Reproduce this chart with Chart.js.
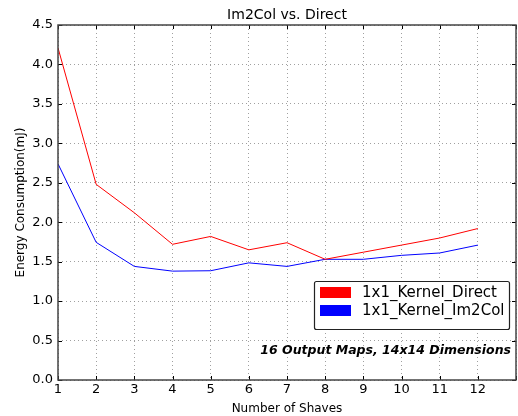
<!DOCTYPE html>
<html>
<head>
<meta charset="utf-8">
<script src="https://cdn.jsdelivr.net/npm/chart.js@4/dist/chart.umd.min.js"></script>
<style>
  html, body { margin: 0; padding: 0; background: #fff; }
  #wrap { width: 518px; height: 416px; }
</style>
</head>
<body>
<div id="wrap"><canvas id="c" width="518" height="416"></canvas></div>
<script>
// Number of shaves on the x axis
const shaves = [1, 2, 3, 4, 5, 6, 7, 8, 9, 10, 11, 12];
// Energy consumption (mJ) per configuration
const directEnergy = [4.21, 2.48, 2.12, 1.72, 1.82, 1.65, 1.74, 1.53, 1.62, 1.71, 1.80, 1.92];
const im2colEnergy = [2.74, 1.745, 1.44, 1.38, 1.385, 1.485, 1.44, 1.53, 1.53, 1.58, 1.61, 1.71];
const seriesNames = ['1x1_Kernel_Direct', '1x1_Kernel_Im2Col'];
const seriesColors = ['#ff0000', '#0000ff'];
const chartTitle = 'Im2Col vs. Direct';
const xTitle = 'Number of Shaves';
const yTitle = 'Energy Consumption(mJ)';
const noteText = '16 Output Maps, 14x14 Dimensions';

const FONT = '"DejaVu Sans", sans-serif';

const toPoints = vals => shaves.map((s, i) => ({ x: s, y: vals[i] }));

// Frame, inward ticks, title, legend box and note
const decorations = {
  id: 'decorations',
  afterDraw(chart) {
    const { ctx, chartArea: a, scales } = chart;
    ctx.save();
    // inward tick marks on all four sides
    ctx.strokeStyle = '#000';
    ctx.lineWidth = 1;
    const tl = 4;
    scales.x.ticks.forEach(t => {
      const px = Math.round(scales.x.getPixelForValue(t.value)) + 0.5;
      ctx.beginPath();
      ctx.moveTo(px, a.bottom); ctx.lineTo(px, a.bottom - tl);
      ctx.moveTo(px, a.top); ctx.lineTo(px, a.top + tl);
      ctx.stroke();
    });
    scales.y.ticks.forEach(t => {
      const py = Math.round(scales.y.getPixelForValue(t.value)) + 0.5;
      ctx.beginPath();
      ctx.moveTo(a.left, py); ctx.lineTo(a.left + tl, py);
      ctx.moveTo(a.right, py); ctx.lineTo(a.right - tl, py);
      ctx.stroke();
    });
    // frame
    ctx.strokeStyle = '#444';
    ctx.lineWidth = 1.5;
    ctx.strokeRect(a.left, a.top, a.right - a.left, a.bottom - a.top);

    // title
    ctx.fillStyle = '#000';
    ctx.font = '14px ' + FONT;
    ctx.textAlign = 'center';
    ctx.textBaseline = 'alphabetic';
    ctx.fillText(chartTitle, (a.left + a.right) / 2, a.top - 6);

    // legend
    const lx = 314, ly = 281, lw = 195, lh = 48;
    ctx.fillStyle = '#fff';
    ctx.fillRect(lx, ly, lw, lh);
    ctx.strokeStyle = '#222';
    ctx.lineWidth = 1.2;
    ctx.beginPath();
    ctx.roundRect ? ctx.roundRect(lx + 0.5, ly + 0.5, lw, lh, 2) : ctx.rect(lx + 0.5, ly + 0.5, lw, lh);
    ctx.stroke();
    ctx.font = '15px ' + FONT;
    ctx.textAlign = 'left';
    ctx.textBaseline = 'middle';
    chart.data.datasets.forEach((ds, i) => {
      const ry = ly + 6 + i * 18;
      ctx.fillStyle = ds.borderColor;
      ctx.fillRect(lx + 6, ry, 31, 11);
      ctx.fillStyle = '#000';
      ctx.fillText(ds.label, lx + 48, ry + 6);
    });

    // note
    ctx.font = 'italic bold 12.5px ' + FONT;
    ctx.textAlign = 'right';
    ctx.textBaseline = 'middle';
    ctx.fillStyle = '#000';
    ctx.fillText(noteText, a.right - 5, 351);
    ctx.restore();
  }
};

new Chart(document.getElementById('c'), {
  type: 'line',
  data: {
    datasets: [
      { label: seriesNames[0], data: toPoints(directEnergy), borderColor: seriesColors[0], borderWidth: 1, pointRadius: 0, tension: 0, fill: false },
      { label: seriesNames[1], data: toPoints(im2colEnergy), borderColor: seriesColors[1], borderWidth: 1, pointRadius: 0, tension: 0, fill: false }
    ]
  },
  options: {
    responsive: false,
    animation: false,
    devicePixelRatio: 1,
    layout: { padding: { top: 25, right: 1, left: 0, bottom: 0 } },
    plugins: { legend: { display: false }, tooltip: { enabled: false } },
    scales: {
      x: {
        type: 'linear', min: 1, max: 13,
        afterFit(s) { s.height = 36; },
        ticks: {
          stepSize: 1, autoSkip: false, maxRotation: 0, padding: 2,
          color: '#000', font: { family: FONT, size: 13 },
          callback: v => (v <= 12 ? String(v) : '')
        },
        grid: { color: '#888', lineWidth: 0.8, tickLength: 0, drawTicks: false },
        border: { display: false, dash: [1, 3] },
        title: { display: true, text: xTitle, color: '#000', font: { family: FONT, size: 12 }, padding: { top: 3, bottom: 0 } }
      },
      y: {
        min: 0, max: 4.5,
        afterFit(s) { s.width = 58; },
        ticks: {
          stepSize: 0.5, padding: 5,
          color: '#000', font: { family: FONT, size: 13 },
          callback: v => Number(v).toFixed(1)
        },
        grid: { color: '#888', lineWidth: 0.8, drawTicks: false },
        border: { display: false, dash: [1, 3] },
        title: { display: true, text: yTitle, color: '#000', font: { family: FONT, size: 12 }, padding: { top: 14, bottom: 0 } }
      }
    }
  },
  plugins: [decorations]
});
</script>
</body>
</html>
